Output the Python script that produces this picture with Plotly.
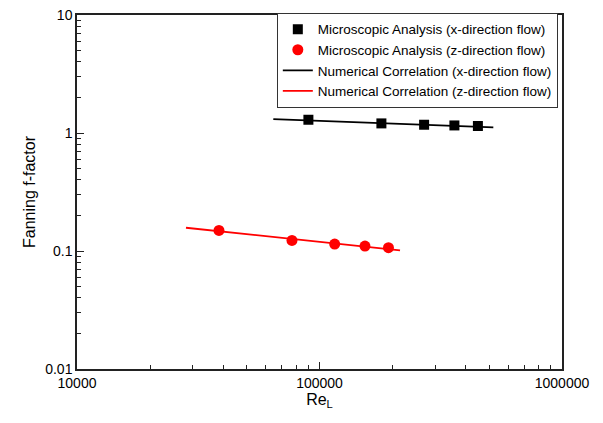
import plotly.graph_objects as go

# Data
re_x = [90000, 180000, 270000, 360000, 450000]
f_x = [1.295, 1.206, 1.175, 1.159, 1.146]
re_z = [38500, 77000, 115500, 154000, 192500]
f_z = [0.1493, 0.1229, 0.1144, 0.1100, 0.1066]

corr_re_x = [64500, 521000]
corr_f_x = [1.313, 1.115]
corr_re_z = [28150, 214800]
corr_f_z = [0.1574, 0.1012]

x_tickvals = [10000, 100000, 1000000]
x_ticktext = ["10000", "100000", "1000000"]
y_tickvals = [0.01, 0.1, 1, 10]
y_ticktext = ["0.01", "0.1", "1", "10"]

# minor tick positions (2..9 within each decade)
x_minor = [m * d for d in (10000, 100000) for m in range(2, 10)]
y_minor = [m * d for d in (0.01, 0.1, 1) for m in range(2, 10)]

FONT = "Arial, 'Liberation Sans', sans-serif"

fig = go.Figure()
fig.add_trace(go.Scatter(x=re_x, y=f_x, mode="markers",
                         marker=dict(symbol="square", size=10, color="black"),
                         name="Microscopic Analysis (x-direction flow)"))
fig.add_trace(go.Scatter(x=re_z, y=f_z, mode="markers",
                         marker=dict(symbol="circle", size=11, color="#ff0000"),
                         name="Microscopic Analysis (z-direction flow)"))
fig.add_trace(go.Scatter(x=corr_re_x, y=corr_f_x, mode="lines",
                         line=dict(color="black", width=1.8),
                         name="Numerical Correlation (x-direction flow)"))
fig.add_trace(go.Scatter(x=corr_re_z, y=corr_f_z, mode="lines",
                         line=dict(color="#ff0000", width=1.8),
                         name="Numerical Correlation (z-direction flow)"))

# page body has an 8px default margin, so margins are reduced accordingly
fig.update_layout(
    width=603, height=423,
    margin=dict(l=69, r=49, t=6, b=62),
    paper_bgcolor="white", plot_bgcolor="white",
    font=dict(family=FONT, size=14, color="black"),
    legend=dict(x=0.412, y=1.003, xanchor="left", yanchor="top",
                bgcolor="white", bordercolor="#333", borderwidth=1,
                font=dict(size=13.5), tracegroupgap=0, itemwidth=30),
    showlegend=True,
)
axis_common = dict(
    type="log",
    showgrid=False, zeroline=False, showline=True, linecolor="#222",
    linewidth=1.5, mirror=True, ticks="inside", ticklen=7, tickwidth=1.3,
    tickcolor="#222", tickfont=dict(size=14), automargin=False,
    ticklabeloverflow="allow",
)
fig.update_xaxes(range=[4, 6], tickmode="array", tickvals=x_tickvals, ticktext=x_ticktext,
                 minor=dict(tickmode="array", tickvals=x_minor, ticks="inside",
                            ticklen=4, tickwidth=1, tickcolor="#222", showgrid=False),
                 title=dict(text="Re<sub>L</sub>", font=dict(size=16), standoff=4),
                 **axis_common)
fig.update_yaxes(range=[-2, 1], tickmode="array", tickvals=y_tickvals, ticktext=y_ticktext,
                 minor=dict(tickmode="array", tickvals=y_minor, ticks="inside",
                            ticklen=4, tickwidth=1, tickcolor="#222", showgrid=False),
                 title=dict(text="Fanning f-factor", font=dict(size=16), standoff=6),
                 **axis_common)

fig.write_html("out.html")
